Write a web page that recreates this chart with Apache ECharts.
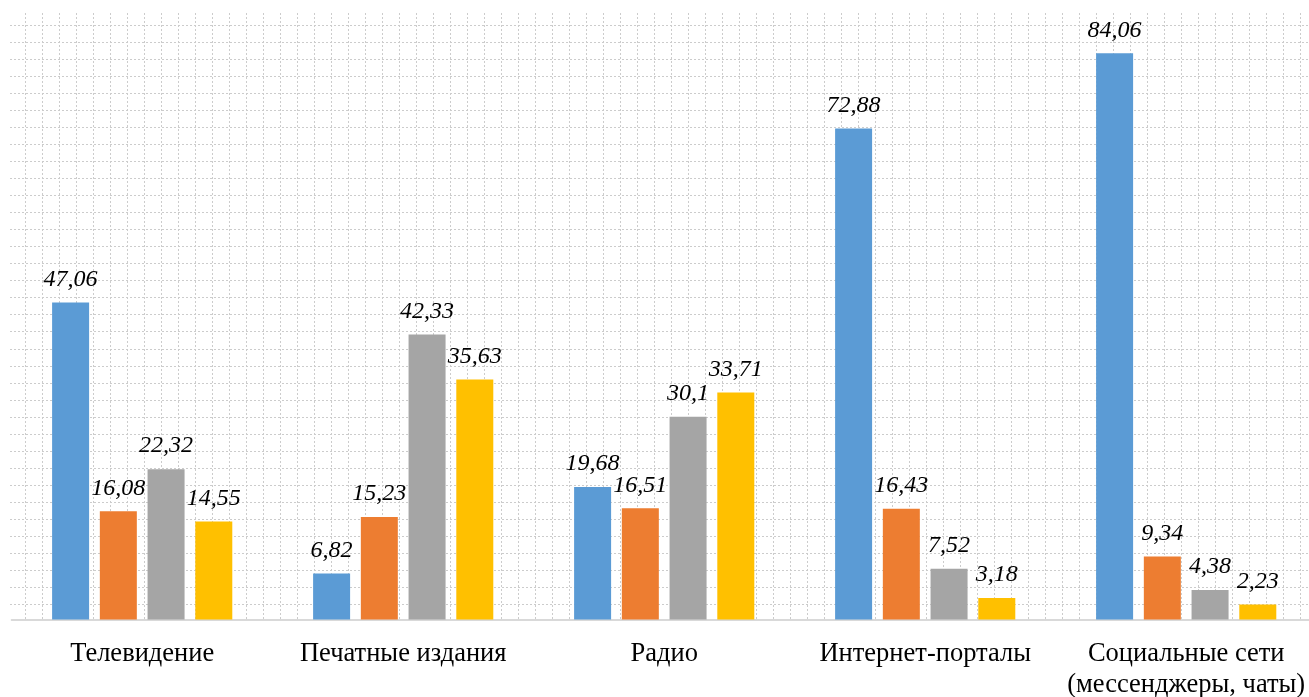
<!DOCTYPE html>
<html>
<head>
<meta charset="utf-8">
<title>Источники информации</title>
<script src="https://cdn.jsdelivr.net/npm/echarts@6/dist/echarts.min.js"></script>
<style>
  html, body { margin: 0; padding: 0; background: #ffffff; }
  #chart { width: 1309px; height: 697px; }
</style>
</head>
<body>
<div id="chart"></div>
<script>
// Categories (media channels)
const categories = [
  'Телевидение',
  'Печатные издания',
  'Радио',
  'Интернет-порталы',
  'Социальные сети\n(мессенджеры, чаты)'
];

// Four series of values per channel
const seriesBlue   = [47.06, 6.82, 19.68, 72.88, 84.06];
const seriesOrange = [16.08, 15.23, 16.51, 16.43, 9.34];
const seriesGray   = [22.32, 42.33, 30.1, 7.52, 4.38];
const seriesYellow = [14.55, 35.63, 33.71, 3.18, 2.23];

const seriesNames  = ['Ряд 1', 'Ряд 2', 'Ряд 3', 'Ряд 4'];
const seriesColors = ['#5B9BD5', '#ED7D31', '#A5A5A5', '#FFC000'];

const serif = '"Liberation Serif", "Times New Roman", serif';

const dotted = { color: '#cccccc', width: 1, type: [2, 2] };

const chart = echarts.init(document.getElementById('chart'), null, { renderer: 'canvas' });

function barSeries(name, data, color) {
  return {
    name: name,
    type: 'bar',
    xAxisIndex: 0,
    yAxisIndex: 0,
    data: data,
    barWidth: 37,
    barGap: '29%',
    itemStyle: { color: color },
    label: {
      show: true,
      position: 'top',
      distance: 11,
      fontFamily: serif,
      fontStyle: 'italic',
      fontSize: 24,
      color: '#000000',
      formatter: p => String(p.value).replace('.', ',')
    },
    z: 3
  };
}

const option = {
  backgroundColor: '#ffffff',
  animation: false,
  grid: [
    // bars
    { left: 11.7, top: 13.3, width: 1305, height: 606.2, containLabel: false, outerBoundsMode: 'none' },
    // dotted horizontal background lines
    { left: 10, right: 0, top: 25, height: 579.4, containLabel: false, outerBoundsMode: 'none' },
    // dotted vertical background lines
    { left: 25, width: 1275, top: 13, height: 607, containLabel: false, outerBoundsMode: 'none' }
  ],
  xAxis: [
    {
      gridIndex: 0,
      type: 'category',
      data: categories,
      axisLine: { show: true, lineStyle: { color: '#d9d9d9', width: 2 } },
      axisTick: { show: false },
      axisLabel: {
        interval: 0,
        margin: 19,
        fontFamily: serif,
        fontSize: 26.5,
        lineHeight: 31,
        color: '#000000'
      },
      splitLine: { show: false },
      z: 2
    },
    {
      gridIndex: 1,
      type: 'value',
      show: false
    },
    {
      gridIndex: 2,
      type: 'value',
      min: 0,
      max: 75,
      interval: 1,
      axisLine: { show: false },
      axisTick: { show: false },
      axisLabel: { show: false },
      splitLine: { show: true, lineStyle: dotted }
    }
  ],
  yAxis: [
    {
      gridIndex: 0,
      type: 'value',
      min: 0,
      max: 90,
      axisLine: { show: false },
      axisTick: { show: false },
      axisLabel: { show: false },
      splitLine: { show: false }
    },
    {
      gridIndex: 1,
      type: 'value',
      min: 0,
      max: 34,
      interval: 1,
      axisLine: { show: false },
      axisTick: { show: false },
      axisLabel: { show: false },
      splitLine: { show: true, lineStyle: dotted }
    },
    {
      gridIndex: 2,
      type: 'value',
      show: false
    }
  ],
  series: [
    barSeries(seriesNames[0], seriesBlue, seriesColors[0]),
    barSeries(seriesNames[1], seriesOrange, seriesColors[1]),
    barSeries(seriesNames[2], seriesGray, seriesColors[2]),
    barSeries(seriesNames[3], seriesYellow, seriesColors[3])
  ]
};

chart.setOption(option);
</script>
</body>
</html>
